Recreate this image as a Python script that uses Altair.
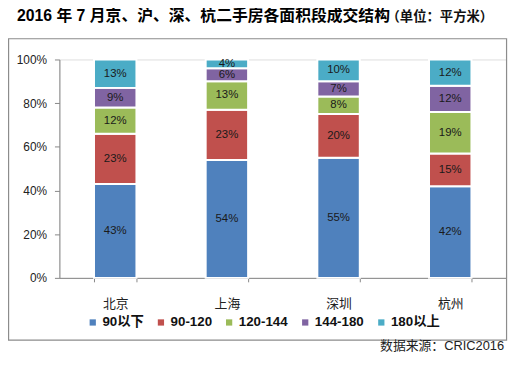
import altair as alt
import pandas as pd

cities = ["北京", "上海", "深圳", "杭州"]
segments = ["90以下", "90-120", "120-144", "144-180", "180以上"]
colors = ["#4F81BD", "#C0504D", "#9BBB59", "#8064A2", "#4BACC6"]
share_90_below = [43, 54, 55, 42]
share_90_120 = [23, 23, 20, 15]
share_120_144 = [12, 13, 8, 19]
share_144_180 = [9, 6, 7, 12]
share_180_above = [13, 4, 10, 12]
y_ticks = [0, 10, 20, 30, 40, 50, 60, 70, 80, 90, 100]

title_text = "2016 年 7 月京、沪、深、杭二手房各面积段成交结构"
unit_text = "（单位：平方米）"
source_text = "数据来源：CRIC2016"

FONT = "Liberation Sans, Noto Sans CJK SC, sans-serif"

rows = []
series = [share_90_below, share_90_120, share_120_144, share_144_180, share_180_above]
for si, (seg, vals) in enumerate(zip(segments, series)):
    for city, v in zip(cities, vals):
        rows.append({"city": city, "segment": seg, "idx": si, "value": v})
df = pd.DataFrame(rows)

base = (
    alt.Chart(df)
    .transform_stack(
        stack="value",
        groupby=["city"],
        sort=[alt.SortField("idx", order="ascending")],
        as_=["y0", "y1"],
    )
    .transform_calculate(mid="(datum.y0 + datum.y1) / 2", label="datum.value + '%'")
)

x_enc = alt.X(
    "city:N",
    sort=cities,
    scale=alt.Scale(paddingInner=0.62, paddingOuter=0.31),
    axis=alt.Axis(
        title=None,
        labelAngle=0,
        tickBand="extent",
        tickSize=4,
        tickColor="#868686",
        domainColor="#868686",
        labelFontSize=13,
        labelFont=FONT,
        labelColor="#222222",
        labelPadding=16,
    ),
)

bars = base.mark_bar(stroke="white", strokeWidth=2).encode(
    x=x_enc,
    y=alt.Y(
        "y0:Q",
        scale=alt.Scale(domain=[0, 100], nice=False),
        axis=alt.Axis(
            title=None,
            values=y_ticks,
            grid=False,
            labelExpr="datum.value + '%'",
            tickSize=5,
            tickColor="#868686",
            domainColor="#868686",
            labelFontSize=12,
            labelFont=FONT,
            labelColor="#222222",
            labelPadding=8,
        ),
    ),
    y2="y1:Q",
    color=alt.Color(
        "segment:N",
        scale=alt.Scale(domain=segments, range=colors),
        legend=alt.Legend(
            title=None,
            orient="none",
            legendX=27,
            legendY=259,
            direction="horizontal",
            symbolType="square",
            symbolSize=40,
            symbolStrokeWidth=0,
            labelFontSize=13.5,
            labelFontWeight="bold",
            labelFont=FONT,
            labelColor="#111111",
            labelOffset=3,
            columnPadding=10,
        ),
    ),
)

labels = base.mark_text(fontSize=11.5, font=FONT, color="#1a1a1a").encode(
    x=alt.X("city:N", sort=cities),
    y=alt.Y("mid:Q"),
    text="label:N",
)

box = alt.Chart(pd.DataFrame({"a": [0]})).mark_rect(
    filled=False, color="#8c8c8c", strokeWidth=1.2
).encode(
    x=alt.value(-51.4), x2=alt.value(452.5), y=alt.value(-21), y2=alt.value(284)
)

title = alt.Chart(pd.DataFrame({"t": [title_text]})).mark_text(
    align="left", baseline="middle", fontSize=16, fontWeight="bold", font=FONT, color="#000000"
).encode(x=alt.value(-43), y=alt.value(-44), text="t:N")

unit = alt.Chart(pd.DataFrame({"t": [unit_text]})).mark_text(
    align="left", baseline="middle", fontSize=13.5, fontWeight="bold", font=FONT, color="#111111"
).encode(x=alt.value(331), y=alt.value(-43), text="t:N")

source = alt.Chart(pd.DataFrame({"t": [source_text]})).mark_text(
    align="right", baseline="middle", fontSize=13, font=FONT, color="#222222"
).encode(x=alt.value(450), y=alt.value(290), text="t:N")

chart = (
    alt.layer(box, bars, labels, title, unit, source)
    .properties(
        width=452,
        height=221,
        autosize=alt.AutoSizeParams(type="none"),
        padding={"left": 52, "top": 50, "right": 6, "bottom": 80},
    )
    .configure_view(strokeWidth=0)
    .configure(background="white")
)

chart.save("out.html", embed_options={"renderer": "svg", "actions": False})
